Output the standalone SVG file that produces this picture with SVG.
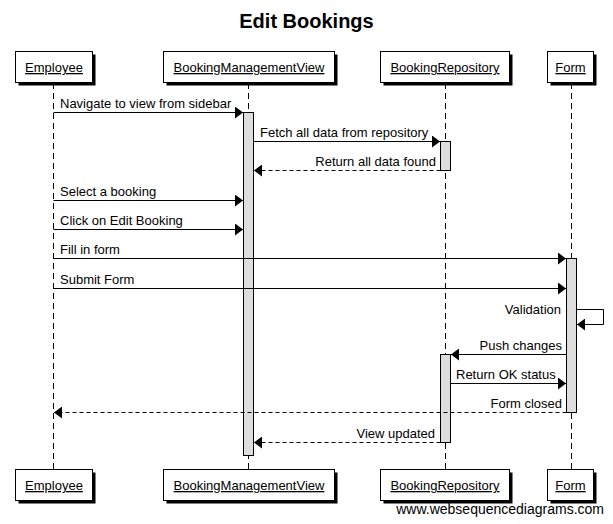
<svg xmlns="http://www.w3.org/2000/svg" width="613" height="524" viewBox="0 0 613 524">
<style>
text{font-family:"Liberation Sans",Arial,sans-serif;font-size:13px;fill:#000}
.title{font-size:20px;font-weight:bold}
.lbl{text-decoration:underline}
.box{fill:#fff;stroke:#000;stroke-width:1}
.shadow{fill:#000}
.life{stroke:#000;stroke-width:1;stroke-dasharray:6,4;fill:none}
.act{fill:#ddd;stroke:#000;stroke-width:1}
.msg{stroke:#000;stroke-width:1;fill:none;marker-end:url(#ah)}
.ret{stroke-dasharray:4,3}
.wm{font-size:14px}
</style>
<defs>
<marker id="ah" markerUnits="userSpaceOnUse" markerWidth="8" markerHeight="12" refX="8" refY="6" orient="auto"><path d="M0,0 L8,6 L0,12 Z" fill="#000"/></marker>
</defs>
<rect width="613" height="524" fill="#fff"/>
<text class="title" x="306.5" y="28" text-anchor="middle">Edit Bookings</text>

<g id="lifelines">
<line class="life" x1="53.5" y1="83" x2="53.5" y2="469"/>
<line class="life" x1="248.5" y1="83" x2="248.5" y2="469"/>
<line class="life" x1="445.5" y1="83" x2="445.5" y2="469"/>
<line class="life" x1="571.5" y1="83" x2="571.5" y2="469"/>
</g>

<g id="Employee">
<rect class="shadow" x="18.5" y="54.5" width="77" height="31"/>
<rect class="box" x="15.5" y="51.5" width="77" height="31"/>
<text class="lbl" x="54" y="72" text-anchor="middle">Employee</text>
<rect class="shadow" x="18.5" y="472.5" width="77" height="31"/>
<rect class="box" x="15.5" y="469.5" width="77" height="31"/>
<text class="lbl" x="54" y="490" text-anchor="middle">Employee</text>
</g>
<g id="BookingManagementView">
<rect class="shadow" x="166.5" y="54.5" width="171" height="31"/>
<rect class="box" x="163.5" y="51.5" width="171" height="31"/>
<text class="lbl" x="249" y="72" text-anchor="middle">BookingManagementView</text>
<rect class="shadow" x="166.5" y="472.5" width="171" height="31"/>
<rect class="box" x="163.5" y="469.5" width="171" height="31"/>
<text class="lbl" x="249" y="490" text-anchor="middle">BookingManagementView</text>
</g>
<g id="BookingRepository">
<rect class="shadow" x="383.5" y="54.5" width="129" height="31"/>
<rect class="box" x="380.5" y="51.5" width="129" height="31"/>
<text class="lbl" x="445" y="72" text-anchor="middle">BookingRepository</text>
<rect class="shadow" x="383.5" y="472.5" width="129" height="31"/>
<rect class="box" x="380.5" y="469.5" width="129" height="31"/>
<text class="lbl" x="445" y="490" text-anchor="middle">BookingRepository</text>
</g>
<g id="Form">
<rect class="shadow" x="550.5" y="54.5" width="46" height="31"/>
<rect class="box" x="547.5" y="51.5" width="46" height="31"/>
<text class="lbl" x="570.5" y="72" text-anchor="middle">Form</text>
<rect class="shadow" x="550.5" y="472.5" width="46" height="31"/>
<rect class="box" x="547.5" y="469.5" width="46" height="31"/>
<text class="lbl" x="570.5" y="490" text-anchor="middle">Form</text>
</g>

<g id="activations">
<rect class="act" x="243.5" y="112.5" width="10" height="343"/>
<rect class="act" x="440.5" y="141.5" width="10" height="29"/>
<rect class="act" x="566.5" y="258.5" width="10" height="154"/>
<rect class="act" x="440.5" y="354.5" width="10" height="88"/>
</g>

<g id="connectors">
<line class="msg" x1="53.5" y1="112.5" x2="243" y2="112.5"/>
<text x="60" y="108">Navigate to view from sidebar</text>
<line class="msg" x1="253.5" y1="141.5" x2="440" y2="141.5"/>
<text x="260" y="137">Fetch all data from repository</text>
<line class="msg ret" x1="440.5" y1="170.5" x2="254" y2="170.5"/>
<text x="436" y="166" text-anchor="end">Return all data found</text>
<line class="msg" x1="53.5" y1="200.5" x2="243" y2="200.5"/>
<text x="60" y="196">Select a booking</text>
<line class="msg" x1="53.5" y1="229.5" x2="243" y2="229.5"/>
<text x="60" y="225">Click on Edit Booking</text>
<line class="msg" x1="53.5" y1="258.5" x2="566" y2="258.5"/>
<text x="60" y="254">Fill in form</text>
<line class="msg" x1="53.5" y1="288.5" x2="566" y2="288.5"/>
<text x="60" y="284">Submit Form</text>
<polyline class="msg" points="576.5,309.5 603.5,309.5 603.5,324.5 577,324.5"/>
<text x="561" y="314" text-anchor="end">Validation</text>
<line class="msg" x1="566.5" y1="354.5" x2="451" y2="354.5"/>
<text x="562" y="350" text-anchor="end">Push changes</text>
<line class="msg" x1="450.5" y1="383.5" x2="566" y2="383.5"/>
<text x="456" y="379">Return OK status</text>
<line class="msg ret" x1="566.5" y1="412.5" x2="54" y2="412.5"/>
<text x="562" y="408" text-anchor="end">Form closed</text>
<line class="msg ret" x1="440.5" y1="442.5" x2="254" y2="442.5"/>
<text x="435" y="438" text-anchor="end">View updated</text>
</g>

<text class="wm" x="604" y="514" text-anchor="end">www.websequencediagrams.com</text>
</svg>
